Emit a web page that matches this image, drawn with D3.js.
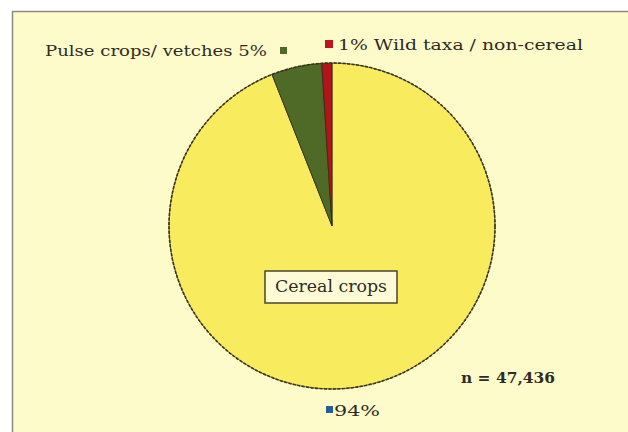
<!DOCTYPE html>
<html>
<head>
<meta charset="utf-8">
<script src="https://cdn.jsdelivr.net/npm/d3@7"></script>
<style>
  html, body { margin: 0; padding: 0; background: #ffffff; }
  svg { display: block; }
</style>
</head>
<body>
<svg id="chart" width="628" height="432"></svg>
<script>
// Composition of the plant remains assemblage
const categories = ["Cereal crops", "Pulse crops/ vetches", "Wild taxa / non-cereal"];
const percentages = [94, 5, 1];
const sliceColors = ["#f8ec5e", "#4f6a26", "#b3141c"];
const markerColors = ["#1f5f9a", "#4f6a26", "#c0141c"];
const sampleSize = "n = 47,436";

const FONT = "'DejaVu Serif', 'Liberation Serif', serif";
const svg = d3.select("#chart");
const W = 628, H = 432;

function label(x, y, str, opts = {}) {
  const t = svg.append("text")
    .attr("x", x).attr("y", y)
    .attr("font-family", FONT)
    .attr("font-size", opts.size || 15)
    .attr("fill", "#2e2c24")
    .attr("text-anchor", opts.anchor || "start")
    .text(str);
  if (opts.bold) t.attr("font-weight", "bold");
  if (opts.len) t.attr("textLength", opts.len).attr("lengthAdjust", "spacingAndGlyphs");
  return t;
}

// panel background and frame
svg.append("rect").attr("x", 12).attr("y", 11).attr("width", W).attr("height", H)
  .attr("fill", "#fefbcb");
svg.append("line").attr("x1", 12).attr("x2", W).attr("y1", 11.5).attr("y2", 11.5)
  .attr("stroke", "#8a8a86").attr("stroke-width", 1.5);
svg.append("line").attr("x1", 12.5).attr("x2", 12.5).attr("y1", 11).attr("y2", H)
  .attr("stroke", "#8a8a86").attr("stroke-width", 1.5);

const cx = 332, cy = 226, r = 163;
const pie = d3.pie().sort(null).value(d => d)(percentages);
const arc = d3.arc().innerRadius(0).outerRadius(r);

const g = svg.append("g").attr("transform", `translate(${cx},${cy})`);
g.selectAll("path.slice").data(pie).join("path")
  .attr("class", "slice")
  .attr("d", arc)
  .attr("fill", (d, i) => sliceColors[i])
  .attr("stroke", "#2e2a14")
  .attr("stroke-width", 0.8);

// dashed rim
g.append("circle").attr("r", r).attr("fill", "none")
  .attr("stroke", "#3a3418").attr("stroke-width", 1.6)
  .attr("stroke-dasharray", "3,1.5");

// inner label box for the dominant slice
const boxW = 132, boxH = 32;
const bx = 265, by = 271;
svg.append("rect").attr("x", bx).attr("y", by).attr("width", boxW).attr("height", boxH)
  .attr("fill", "#fdfbd6").attr("stroke", "#4a4630").attr("stroke-width", 1.5);
label(bx + boxW / 2, by + 21, categories[0], { size: 16, anchor: "middle", len: 112 });

// outer labels
label(45, 56, `${categories[1]} ${percentages[1]}%`, { size: 15, len: 222 });
svg.append("rect").attr("x", 280).attr("y", 47).attr("width", 7).attr("height", 7)
  .attr("fill", markerColors[1]);

svg.append("rect").attr("x", 325).attr("y", 40).attr("width", 8).attr("height", 8)
  .attr("fill", markerColors[2]);
label(338, 50, `${percentages[2]}% ${categories[2]}`, { size: 15, len: 245 });

svg.append("rect").attr("x", 326).attr("y", 406).attr("width", 7).attr("height", 7)
  .attr("fill", markerColors[0]);
label(334, 416, `${percentages[0]}%`, { size: 15, len: 46 });

label(461, 383, sampleSize, { size: 15, bold: true, len: 94 });
</script>
</body>
</html>
